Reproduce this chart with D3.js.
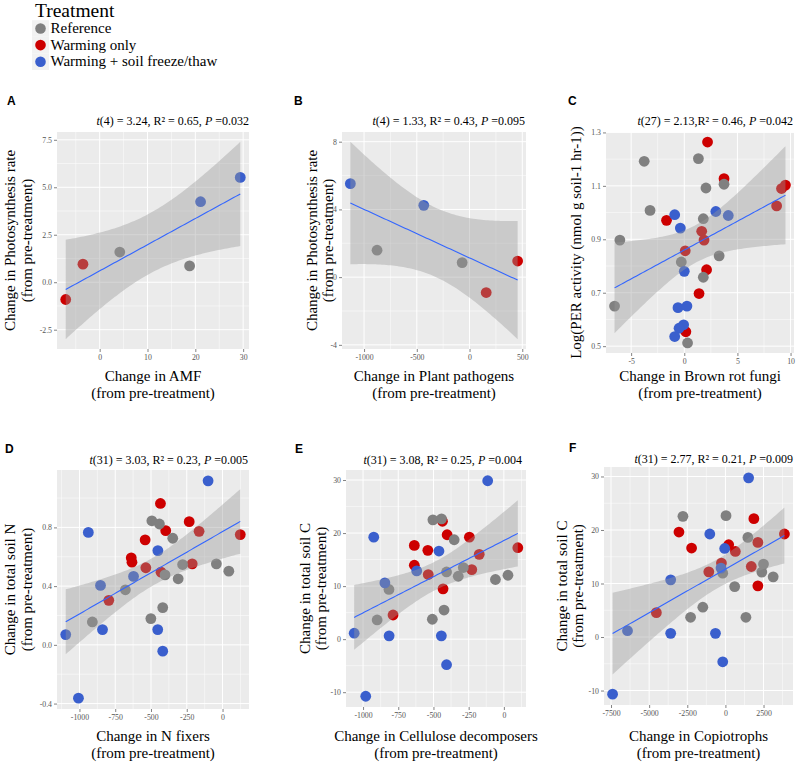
<!DOCTYPE html>
<html><head><meta charset="utf-8">
<script src="https://cdn.jsdelivr.net/npm/d3@7"></script>
<style>body{margin:0;background:#fff}</style>
</head><body>
<svg id="chart" width="800" height="767"></svg>
<script>
// ---------------- DATA ----------------
const treatments = ["Reference", "Warming only", "Warming + soil freeze/thaw"];
const treatmentCodes = ["R", "W", "F"];
const treatmentColors = ["#808080", "#CD0000", "#3A5FCD"];

// Panel A: Change in AMF vs change in photosynthesis rate
const aAMF   = [-7.1, -3.5, 4.2, 18.8, 21.1, 29.4];
const aPhoto = [-0.91, 0.95, 1.59, 0.86, 4.24, 5.52];
const aTrt   = ["W", "W", "R", "R", "F", "F"];

// Panel B: Change in plant pathogens vs change in photosynthesis rate
const bPath  = [-1130, -877, -434, -70, 158, 456];
const bPhoto = [5.52, 1.59, 4.24, 0.86, -0.91, 0.95];
const bTrt   = ["F", "R", "F", "R", "W", "W"];

// Panel C: Change in brown rot fungi vs Log(PER activity)
const cBrown = [2.19, 3.74, -1.67, 1.64, 1.86, 0.09, 2.10, 1.39, 0.15, 9.52, 9.15, 8.69,
                -3.77, -3.22, -6.06, -6.56, 1.33, 2.04, 3.74, 1.79, 3.28, -0.28, 1.79, 0.31,
                -0.90, -0.37, 2.97, 4.14, 0.0, -0.59, 0.25, -0.06, -0.49, -0.90];
const cPER   = [1.264, 1.127, 0.971, 0.930, 0.897, 0.857, 0.786, 0.697, 0.554, 1.103, 1.090, 1.025,
                1.192, 1.008, 0.897, 0.650, 1.202, 1.092, 1.106, 0.977, 0.838, 0.815, 0.758, 0.512,
                0.992, 0.942, 1.004, 0.989, 0.780, 0.644, 0.650, 0.580, 0.567, 0.536];
const cTrt   = ["W","W","W","W","W","W","W","W","W","W","W","W",
                "R","R","R","R","R","R","R","R","R","R","R","R",
                "F","F","F","F","F","F","F","F","F","F"];

// Panel D: Change in N fixers vs change in total soil N
const dNfix  = [-434, -233, -541, -397, -638, -633, -536, -164, 124, -212, -430, -795,
                -494, -441, -348, -402, -310, -279, -43, 44, -679, -418, -501, -910,
                -101, -938, -452, -622, -853, -1096, -839, -1007, -453, -418];
const dSoilN = [0.963, 0.839, 0.715, 0.778, 0.593, 0.563, 0.525, 0.773, 0.751, 0.552, 0.495, 0.303,
                0.845, 0.823, 0.726, 0.477, 0.450, 0.547, 0.552, 0.502, 0.375, 0.254, 0.179, 0.156,
                1.117, 0.766, 0.642, 0.466, 0.405, 0.070, 0.104, -0.363, 0.104, -0.043];
const dTrt   = ["W","W","W","W","W","W","W","W","W","W","W","W",
                "R","R","R","R","R","R","R","R","R","R","R","R",
                "F","F","F","F","F","F","F","F","F","F"];

// Panel E: Change in cellulose decomposers vs change in total soil C
const eCell  = [-436, -403, -245, -636, -540, -636, -537, -175, -228, 99, -432, -787,
                -504, -443, -353, -407, -288, -324, -60, 29, -816, -425, -508, -900,
                -115, -924, -461, -619, -845, -1063, -815, -981, -444, -407];
const eSoilC = [22.23, 19.68, 19.23, 17.68, 16.74, 13.93, 12.18, 15.99, 13.12, 17.24, 9.48, 4.55,
                22.49, 22.68, 18.74, 12.67, 13.50, 11.86, 11.25, 12.05, 9.37, 5.49, 3.75, 3.62,
                29.86, 19.23, 16.61, 12.86, 10.61, 1.12, 0.62, -10.76, 0.62, -4.82];
const eTrt   = dTrt;

// Panel F: Change in copiotrophs vs change in total soil C
const fCopio = [1866, -3046, 3868, -2218, 215, 652, 2127, -261, -1089, 1696, 2127, -4527,
                -2785, 39, 1474, 2498, 2387, 3131, -176, 607, -1481, -2283, 1344,
                1520, -1024, -46, -287, -3588, -6419, -3588, -652, -176, -7397];
const fSoilC = [22.12, 19.62, 19.25, 16.63, 17.24, 15.99, 17.68, 13.81, 12.18, 13.18, 9.56, 4.55,
                22.55, 22.68, 18.61, 13.63, 12.13, 11.25, 11.94, 9.43, 5.57, 3.69, 3.69,
                29.75, 19.25, 16.55, 12.88, 10.68, 1.18, 0.69, 0.69, -4.63, -10.68];
const fTrt   = ["W","W","W","W","W","W","W","W","W","W","W","W",
                "R","R","R","R","R","R","R","R","R","R","R",
                "F","F","F","F","F","F","F","F","F","F"];

// Tick values
const aXTicks = [0, 10, 20, 30],           aYTicks = [-2.5, 0, 2.5, 5, 7.5];
const bXTicks = [-1000, -500, 0, 500],     bYTicks = [-4, 0, 4, 8];
const cXTicks = [-5, 0, 5, 10],            cYTicks = [0.5, 0.7, 0.9, 1.1, 1.3];
const dXTicks = [-1000, -750, -500, -250, 0], dYTicks = [-0.4, 0, 0.4, 0.8];
const eXTicks = [-1000, -750, -500, -250, 0], eYTicks = [-10, 0, 10, 20, 30];
const fXTicks = [-7500, -5000, -2500, 0, 2500], fYTicks = [-10, 0, 10, 20, 30];

// Statistics text
const statDf = ["4", "4", "27", "31", "31", "31"];
const statT  = ["3.24", "1.33", "2.13", "3.03", "3.08", "2.77"];
const statR2 = ["0.65", "0.43", "0.46", "0.23", "0.25", "0.21"];
const statP  = ["0.032", "0.095", "0.042", "0.005", "0.004", "0.009"];

// Axis titles
const xTitles = ["Change in AMF", "Change in Plant pathogens", "Change in Brown rot fungi",
                 "Change in N fixers", "Change in Cellulose decomposers", "Change in Copiotrophs"];
const xSubtitle = "(from pre-treatment)";
const yTitles = [["Change in Photosynthesis rate", "(from pre-treatment)"],
                 ["Change in Photosynthesis rate", "(from pre-treatment)"],
                 ["Log(PER activity (nmol g soil-1 hr-1))"],
                 ["Change in total soil N", "(from pre-treatment)"],
                 ["Change in total soil C", "(from pre-treatment)"],
                 ["Change in total soil C", "(from pre-treatment)"]];
const panelLetters = ["A", "B", "C", "D", "E", "F"];

// ---------------- DRAWING ----------------
const SERIF = "'Liberation Serif','Times New Roman',serif";
const SANS = "'Liberation Sans',Arial,sans-serif";
const svg = d3.select("#chart");
const color = d3.scaleOrdinal().domain(treatmentCodes).range(treatmentColors);

function tQuantile975(df) {
  const z = 1.959964, z3 = z ** 3, z5 = z ** 5, z7 = z ** 7, z9 = z ** 9;
  return z + (z3 + z) / (4 * df) + (5 * z5 + 16 * z3 + 3 * z) / (96 * df ** 2)
    + (3 * z7 + 19 * z5 + 17 * z3 - 15 * z) / (384 * df ** 3)
    + (79 * z9 + 776 * z7 + 1482 * z5 - 1920 * z3 - 945 * z) / (92160 * df ** 4);
}

function lmFit(xs, ys) {
  const n = xs.length, mx = d3.mean(xs), my = d3.mean(ys);
  let sxx = 0, sxy = 0;
  for (let i = 0; i < n; i++) { sxx += (xs[i] - mx) ** 2; sxy += (xs[i] - mx) * (ys[i] - my); }
  const b = sxy / sxx, a = my - b * mx;
  let sse = 0;
  for (let i = 0; i < n; i++) sse += (ys[i] - a - b * xs[i]) ** 2;
  const s = Math.sqrt(sse / (n - 2)), tq = tQuantile975(n - 2);
  const [x0, x1] = d3.extent(xs);
  return d3.range(80).map(i => {
    const x = x0 + (x1 - x0) * i / 79, yh = a + b * x;
    const se = s * Math.sqrt(1 / n + (x - mx) ** 2 / sxx);
    return { x, y: yh, lo: yh - tq * se, hi: yh + tq * se };
  });
}

const panels = [
  { x: aAMF, y: aPhoto, t: aTrt, xt: aXTicks, yt: aYTicks, xd: 0, yd: 1,
    box: [57, 132, 249, 349], yTx: [10, 27], letter: [7, 105], stat: [249, 125], xTy: [381, 398] },
  { x: bPath, y: bPhoto, t: bTrt, xt: bXTicks, yt: bYTicks, xd: 0, yd: 0,
    box: [342, 132, 526, 349], yTx: [312, 328], letter: [294, 105], stat: [525, 125], xTy: [381, 398] },
  { x: cBrown, y: cPER, t: cTrt, xt: cXTicks, yt: cYTicks, xd: 0, yd: 1, noSpace: true,
    box: [606, 132, 794, 353], yTx: [576], letter: [568, 105], stat: [793, 125], xTy: [381, 398] },
  { x: dNfix, y: dSoilN, t: dTrt, xt: dXTicks, yt: dYTicks, xd: 0, yd: 1,
    box: [57, 470, 249, 709], yTx: [10, 27], letter: [5, 453], stat: [248, 464], xTy: [741, 758] },
  { x: eCell, y: eSoilC, t: eTrt, xt: eXTicks, yt: eYTicks, xd: 0, yd: 0,
    box: [346, 470, 526, 707], yTx: [305, 321], letter: [295, 453], stat: [522, 464], xTy: [741, 758] },
  { x: fCopio, y: fSoilC, t: fTrt, xt: fXTicks, yt: fYTicks, xd: 0, yd: 0,
    box: [604, 467, 793, 705], yTx: [562, 578], letter: [569, 452], stat: [793, 463], xTy: [741, 758] }
];

function minorTicks(major, dom) {
  const step = major[1] - major[0];
  const out = [];
  for (let v = major[0] - step / 2; v <= major[major.length - 1] + step / 2 + 1e-9; v += step) {
    if (v >= dom[0] && v <= dom[1]) out.push(v);
  }
  return out;
}

panels.forEach((p, i) => {
  const [L, T, R, B] = p.box;
  const fit = lmFit(p.x, p.y);
  const xe = d3.extent(p.x), xr = xe[1] - xe[0];
  const x = d3.scaleLinear().domain([xe[0] - 0.05 * xr, xe[1] + 0.05 * xr]).range([L, R]);
  const ye = d3.extent(p.y.concat(fit.map(d => d.lo), fit.map(d => d.hi))), yr = ye[1] - ye[0];
  const y = d3.scaleLinear().domain([ye[0] - 0.05 * yr, ye[1] + 0.05 * yr]).range([B, T]);
  const g = svg.append("g");

  g.append("rect").attr("x", L).attr("y", T).attr("width", R - L).attr("height", B - T).attr("fill", "#EBEBEB");
  // grid
  const grid = g.append("g").attr("stroke", "#fff");
  minorTicks(p.xt, x.domain()).forEach(v => grid.append("line").attr("x1", x(v)).attr("x2", x(v)).attr("y1", T).attr("y2", B).attr("stroke-width", 0.5));
  minorTicks(p.yt, y.domain()).forEach(v => grid.append("line").attr("y1", y(v)).attr("y2", y(v)).attr("x1", L).attr("x2", R).attr("stroke-width", 0.5));
  p.xt.forEach(v => grid.append("line").attr("x1", x(v)).attr("x2", x(v)).attr("y1", T).attr("y2", B).attr("stroke-width", 1));
  p.yt.forEach(v => grid.append("line").attr("y1", y(v)).attr("y2", y(v)).attr("x1", L).attr("x2", R).attr("stroke-width", 1));

  // points
  g.append("g").selectAll("circle").data(p.x.map((v, k) => ({ x: v, y: p.y[k], t: p.t[k] })))
    .join("circle").attr("cx", d => x(d.x)).attr("cy", d => y(d.y)).attr("r", 5.4)
    .attr("fill", d => color(d.t));

  // confidence band + regression line
  g.append("path").datum(fit).attr("fill", "#999999").attr("fill-opacity", 0.4)
    .attr("d", d3.area().x(d => x(d.x)).y0(d => y(d.lo)).y1(d => y(d.hi)));
  g.append("path").datum(fit).attr("fill", "none").attr("stroke", "#3366FF").attr("stroke-width", 1.1)
    .attr("d", d3.line().x(d => x(d.x)).y(d => y(d.y)));

  // axes
  const xAxis = g.append("g").attr("transform", `translate(0,${B})`)
    .call(d3.axisBottom(x).tickValues(p.xt).tickSize(3).tickPadding(2).tickFormat(d => d.toFixed(p.xd)));
  const yAxis = g.append("g").attr("transform", `translate(${L},0)`)
    .call(d3.axisLeft(y).tickValues(p.yt).tickSize(3).tickPadding(2).tickFormat(d => d.toFixed(p.yd)));
  [xAxis, yAxis].forEach(ax => {
    ax.select(".domain").remove();
    ax.selectAll(".tick line").attr("stroke", "#4D4D4D").attr("stroke-width", 0.7);
    ax.selectAll(".tick text").attr("fill", "#555").style("font-family", SERIF).style("font-size", "7.8px");
  });

  // axis titles
  const cx = (L + R) / 2, cy = (T + B) / 2;
  g.append("text").attr("x", cx).attr("y", p.xTy[0]).attr("text-anchor", "middle")
    .style("font-family", SERIF).style("font-size", "15px").text(xTitles[i]);
  g.append("text").attr("x", cx).attr("y", p.xTy[1]).attr("text-anchor", "middle")
    .style("font-family", SERIF).style("font-size", "15px").text(xSubtitle);
  yTitles[i].forEach((line, k) => {
    g.append("text").attr("transform", `translate(${p.yTx[k]},${cy}) rotate(-90)`)
      .attr("text-anchor", "middle").attr("dy", "0.35em")
      .style("font-family", SERIF).style("font-size", "15px").text(line);
  });

  // stats text
  const st = g.append("text").attr("x", p.stat[0]).attr("y", p.stat[1]).attr("text-anchor", "end")
    .style("font-family", SERIF).style("font-size", "12px");
  st.append("tspan").style("font-style", "italic").text("t");
  st.append("tspan").text(`(${statDf[i]}) = ${statT[i]},${p.noSpace ? "" : " "}R² = ${statR2[i]}, `);
  st.append("tspan").style("font-style", "italic").text("P");
  st.append("tspan").text(` =${statP[i]}`);

  // panel letter
  g.append("text").attr("x", p.letter[0]).attr("y", p.letter[1])
    .style("font-family", SANS).style("font-weight", "bold").style("font-size", "12px").text(panelLetters[i]);
});

// legend
const lg = svg.append("g");
lg.append("text").attr("x", 35).attr("y", 17).style("font-family", SERIF).style("font-size", "19.5px").text("Treatment");
treatments.forEach((name, k) => {
  const cy = 28.5 + k * 16.6;
  lg.append("rect").attr("x", 32).attr("y", cy - 8.3).attr("width", 17).attr("height", 16.6).attr("fill", "#F2F2F2");
  lg.append("circle").attr("cx", 40.5).attr("cy", cy).attr("r", 5.3).attr("fill", treatmentColors[k]);
  lg.append("text").attr("x", 50.5).attr("y", cy + 4.5).style("font-family", SERIF).style("font-size", "15px").text(name);
});
</script>
</body></html>
